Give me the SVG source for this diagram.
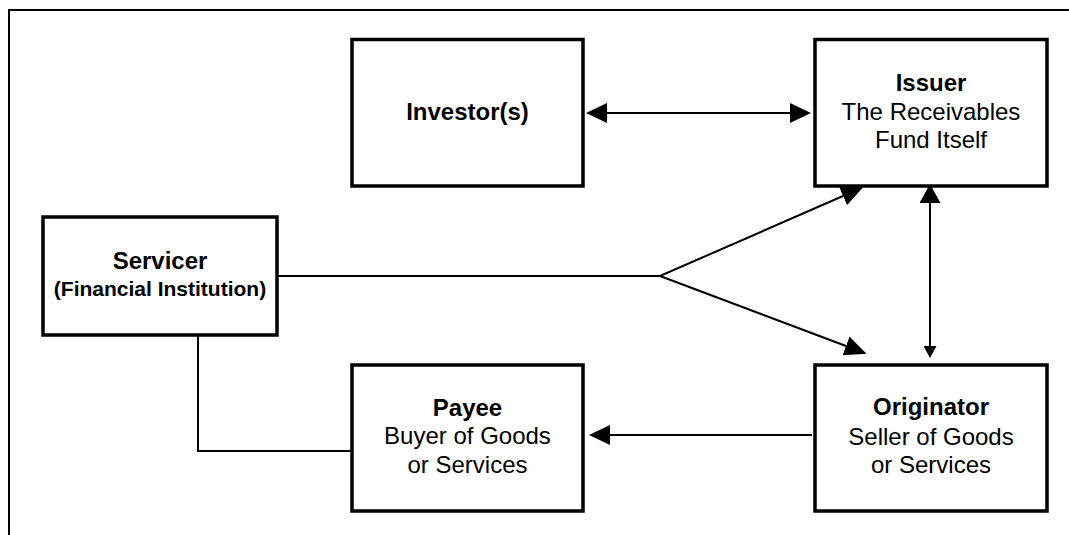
<svg xmlns="http://www.w3.org/2000/svg" width="1069" height="535" viewBox="0 0 1069 535">
<style>
.box{fill:#fff;stroke:#000;stroke-width:3.5}
.ln{fill:none;stroke:#000;stroke-width:2}
.frame{fill:none;stroke:#000;stroke-width:2}
text{font-family:"Liberation Sans",Arial,sans-serif;font-size:24px;fill:#000;text-anchor:middle}
.b{font-weight:bold}
.sm{font-size:21px;font-weight:bold}
</style>
<defs>
<marker id="hBig" markerUnits="userSpaceOnUse" markerWidth="21" markerHeight="20" viewBox="0 0 21 20" refX="0" refY="10" orient="auto-start-reverse"><path d="M0,0 L21,10 L0,20 Z" fill="#000"/></marker>
<marker id="hDiag" markerUnits="userSpaceOnUse" markerWidth="22" markerHeight="20" viewBox="0 0 22 20" refX="0" refY="10" orient="auto"><path d="M0,0 L22,10 L0,20 Z" fill="#000"/></marker>
<marker id="hTop" markerUnits="userSpaceOnUse" markerWidth="19" markerHeight="21" viewBox="0 0 19 21" refX="0" refY="10.5" orient="auto-start-reverse"><path d="M0,0 L19,10.5 L0,21 Z" fill="#000"/></marker>
<marker id="hSmall" markerUnits="userSpaceOnUse" markerWidth="12" markerHeight="13" viewBox="0 0 12 13" refX="0" refY="6.5" orient="auto"><path d="M0,0 L12,6.5 L0,13 Z" fill="#000"/></marker>
</defs>
<rect width="1069" height="535" fill="#fff"/>
<path class="frame" d="M9,535 L9,10 L1069,10"/>
<g id="connectors">
<line class="ln" x1="607" y1="113" x2="790" y2="113" marker-start="url(#hBig)" marker-end="url(#hBig)"/>
<line class="ln" x1="812" y1="435" x2="610" y2="435" marker-end="url(#hBig)"/>
<line class="ln" x1="930" y1="203" x2="930" y2="346" marker-start="url(#hTop)" marker-end="url(#hSmall)"/>
<polyline class="ln" points="277,276 660,276 843,196" marker-end="url(#hDiag)"/>
<line class="ln" x1="660" y1="276" x2="846" y2="346" marker-end="url(#hDiag)"/>
<polyline class="ln" points="198,335 198,451 352,451"/>
</g>
<g id="investor">
<rect class="box" x="352" y="39.5" width="231" height="146.5"/>
<text class="b" x="467.5" y="120">Investor(s)</text>
</g>
<g id="issuer">
<rect class="box" x="815" y="39.5" width="232" height="146.5"/>
<text class="b" x="931" y="91">Issuer</text>
<text x="931" y="120">The Receivables</text>
<text x="931" y="148">Fund Itself</text>
</g>
<g id="servicer">
<rect class="box" x="43" y="217" width="234" height="118"/>
<text class="b" x="160" y="269">Servicer</text>
<text class="sm" x="160" y="296">(Financial Institution)</text>
</g>
<g id="payee">
<rect class="box" x="352" y="365" width="231" height="146"/>
<text class="b" x="467.5" y="416">Payee</text>
<text x="467.5" y="444">Buyer of Goods</text>
<text x="467.5" y="473">or Services</text>
</g>
<g id="originator">
<rect class="box" x="815" y="365" width="232" height="146"/>
<text class="b" x="931" y="415">Originator</text>
<text x="931" y="445">Seller of Goods</text>
<text x="931" y="473">or Services</text>
</g>
</svg>
